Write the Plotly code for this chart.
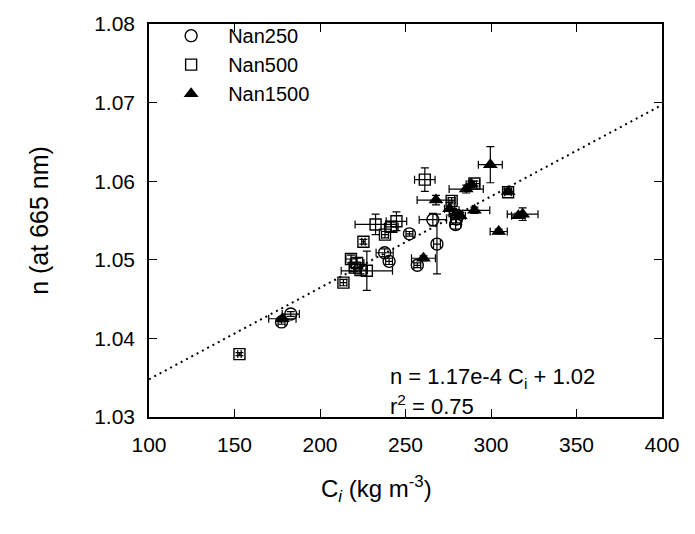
import plotly.graph_objects as go

# ---- data ----
nan250_x = [177.5, 182.9, 237.8, 240.4, 252.3, 256.9, 266.0, 268.4, 279.3, 279.8]
nan250_y = [1.0421, 1.0431, 1.0509, 1.0498, 1.0533, 1.0493, 1.0551, 1.0520, 1.0545, 1.0552]
nan250_xerr = [2, 5, 5, 2, 2, 2, 8, 2, 3, 3]
nan250_yerr = [0.0003, 0.0003, 0.0005, 0.0004, 0.0003, 0.0003, 0.0008, 0.0038, 0.0006, 0.0005]

nan500_x = [152.9, 213.7, 225.4, 218.1, 221.7, 220.3, 223.7, 227.4, 232.5, 238.0, 241.7, 244.7, 261.3, 277.0, 290.3, 310.0]
nan500_y = [1.0380, 1.0471, 1.0523, 1.0501, 1.0496, 1.0490, 1.0487, 1.0486, 1.0545, 1.0532, 1.0542, 1.0549, 1.0602, 1.0575, 1.0597, 1.0586]
nan500_xerr = [1, 2, 1, 3, 4, 3, 4, 15, 12, 2, 4, 6, 6, 2, 3, 2]
nan500_yerr = [0.0002, 0.0004, 0.0003, 0.0005, 0.0006, 0.0005, 0.0005, 0.0025, 0.0013, 0.0004, 0.0006, 0.0012, 0.0015, 0.0004, 0.0003, 0.0003]

nan1500_x = [178.0, 260.5, 267.8, 275.8, 279.5, 282.0, 285.5, 288.5, 290.3, 299.6, 304.5, 316.0, 318.5, 310.0]
nan1500_y = [1.0425, 1.0502, 1.0576, 1.0565, 1.0559, 1.0556, 1.0590, 1.0596, 1.0563, 1.0621, 1.0536, 1.0556, 1.0558, 1.0587]
nan1500_xerr = [8, 7, 11, 3, 4, 3, 10, 3, 9, 7, 5, 4, 9, 2]
nan1500_yerr = [0.0003, 0.0003, 0.0006, 0.0008, 0.0005, 0.0004, 0.0005, 0.0004, 0.0004, 0.0023, 0.0003, 0.0003, 0.0008, 0.0003]

fit_x = [100, 400]
fit_y = [1.0348, 1.0697]

x_ticks = [100, 150, 200, 250, 300, 350, 400]
y_ticks = [1.03, 1.04, 1.05, 1.06, 1.07, 1.08]
y_tick_labels = ["1.03", "1.04", "1.05", "1.06", "1.07", "1.08"]

FONT = "Liberation Sans, Arial, Helvetica, sans-serif"

fig = go.Figure()

fig.add_trace(go.Scatter(
    x=fit_x, y=fit_y, mode="lines", showlegend=False, hoverinfo="skip",
    line=dict(color="black", width=2, dash="2px,4px")))

def err(arr, t=1.2, w=4):
    return dict(type="data", array=arr, visible=True, color="black", thickness=t, width=w)

fig.add_trace(go.Scatter(
    x=nan250_x, y=nan250_y, mode="markers", name="Nan250",
    marker=dict(symbol="circle-open", size=12, color="black", line=dict(width=1.4, color="black")),
    error_x=err(nan250_xerr), error_y=err(nan250_yerr)))

fig.add_trace(go.Scatter(
    x=nan500_x, y=nan500_y, mode="markers", name="Nan500",
    marker=dict(symbol="square-open", size=11, color="black", line=dict(width=1.4, color="black")),
    error_x=err(nan500_xerr), error_y=err(nan500_yerr)))

fig.add_trace(go.Scatter(
    x=nan1500_x, y=nan1500_y, mode="markers", name="Nan1500",
    marker=dict(symbol="triangle-up", size=13, color="black", line=dict(width=0)),
    error_x=err(nan1500_xerr), error_y=err(nan1500_yerr)))

axis_common = dict(
    showgrid=False, zeroline=False, showline=True, linecolor="black", linewidth=1.5,
    mirror="ticks", ticks="inside", ticklen=8, tickwidth=1.3, tickcolor="black",
    tickfont=dict(family=FONT, size=21, color="black"), automargin=False,
)

fig.update_xaxes(range=[100, 400], tickvals=x_ticks, ticklabelstandoff=8, **axis_common)
fig.update_yaxes(
    range=[1.03, 1.08], tickvals=y_ticks, ticktext=y_tick_labels, ticklabelstandoff=8,
    title=dict(text="n (at 665 nm)", font=dict(family=FONT, size=25, color="black"), standoff=38),
    **axis_common)

# x-axis title (placed slightly left of centre, as in the reference)
fig.add_annotation(
    xref="paper", yref="paper", x=0.444, y=-0.182, xanchor="center", yanchor="middle",
    showarrow=False, text="C<sub><i>i</i></sub> (kg m<sup>-3</sup>)",
    font=dict(family=FONT, size=24, color="black"))

fig.add_annotation(
    xref="x", yref="y", x=239.5, y=1.0349, xanchor="left", yanchor="middle", showarrow=False,
    text="n = 1.17e-4 C<sub>i</sub> + 1.02", font=dict(family=FONT, size=22, color="black"))
fig.add_annotation(
    xref="x", yref="y", x=239.5, y=1.0315, xanchor="left", yanchor="middle", showarrow=False,
    text="r<sup>2</sup> = 0.75", font=dict(family=FONT, size=22, color="black"))

fig.update_layout(
    width=695, height=534,
    margin=dict(l=141, r=41, t=8, b=125),
    paper_bgcolor="white", plot_bgcolor="white",
    font=dict(family=FONT, color="black"),
    legend=dict(x=0.01, y=1.02, xanchor="left", yanchor="top", bgcolor="rgba(0,0,0,0)",
                font=dict(family=FONT, size=20, color="black"), itemwidth=64,
                tracegroupgap=0),
)

fig.write_html("out.html")
